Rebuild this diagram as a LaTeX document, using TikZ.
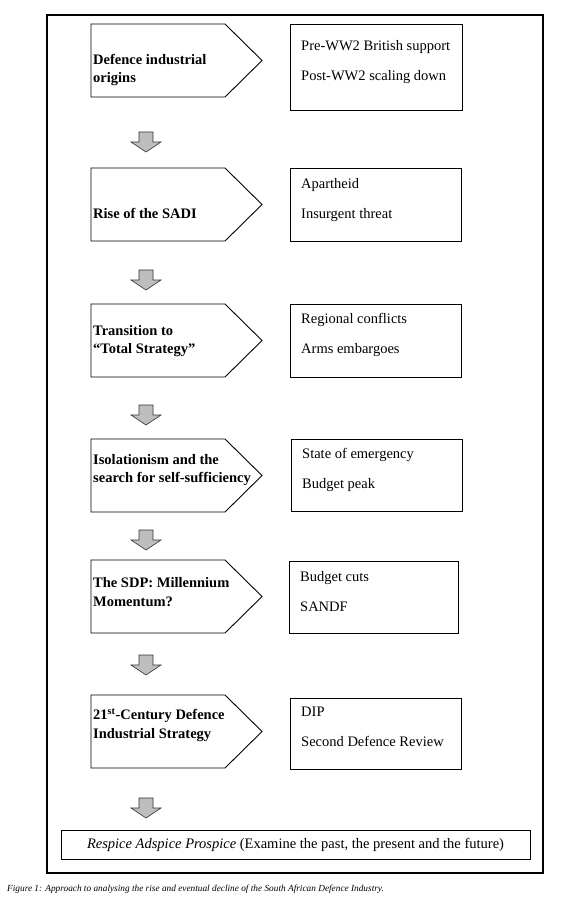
\documentclass[tikz,border=0pt]{standalone}
\usepackage{fontspec}
\setmainfont{Liberation Serif}
\usetikzlibrary{positioning,calc}
\definecolor{arrowgray}{RGB}{190,190,190}

\begin{document}
\begin{tikzpicture}[x=1pt,y=-1pt,
  outline/.style={draw=black,line width=0.9pt},
  body/.style={inner sep=0pt,outer sep=0pt,minimum width=134pt,minimum height=73pt},
  stagetext/.style={anchor=west,inner sep=0pt,align=left,font=\fontsize{14.5}{18.5}\selectfont\bfseries},
  itembox/.style={outline,inner sep=0pt,outer sep=0pt},
  itemtext/.style={anchor=west,inner sep=0pt,align=left,font=\fontsize{14.5}{30}\selectfont},
  downarrow/.style={draw=black!80,line width=0.6pt,fill=arrowgray}]
\useasboundingbox (0,0) rectangle (561,903);
% outer frame
\draw[line width=2pt] (47,15) rectangle (543,873);
% stages: pentagon on the left, box of factors on the right
\foreach \i/\ptop/\tcy/\stage/\bxl/\bxr/\byt/\byb/\byc/\facts in {
  1/24/70/{Defence industrial\\origins}/290/462/24/110/62/{Pre-WW2 British support\\Post-WW2 scaling down},
  2/168/213/{Rise of the SADI}/290/461/168/241/200/{Apartheid\\Insurgent threat},
  3/304/341/{Transition to\\“Total Strategy”}/290/461/304/377/335/{Regional conflicts\\Arms embargoes},
  4/439/470/{Isolationism and the\\search for self-sufficiency}/291/462/439/511/470/{State of emergency\\Budget peak},
  5/560/592/{The SDP: Millennium\\Momentum?}/289/458/561/633/592/{Budget cuts\\SANDF},
  6/695/725/{21\textsuperscript{st}-Century Defence\\Industrial Strategy}/290/461/698/769/727/{DIP\\Second Defence Review}}{
  \node[body] (p\i) at (158,{\ptop+36.5}) {};
  \draw[outline] (p\i.north west) -- (p\i.north east) -- ([xshift=37pt]p\i.east)
    -- (p\i.south east) -- (p\i.south west) -- cycle;
  \node[stagetext] (t\i) at (93,\tcy) {\stage};
  \node[itembox,minimum width={(\bxr-\bxl)*1pt},minimum height={(\byb-\byt)*1pt}]
    (b\i) at ({(\bxl+\bxr)/2},{(\byt+\byb)/2}) {};
  \node[itemtext] (f\i) at ({\bxl+11},\byc) {\facts};
}
% block arrows between stages
\foreach \ya in {132,270,405,530,655,798}{
  \draw[downarrow] (139,\ya) -- ++(14,0) -- ++(0,10) -- ++(8,0) -- ++(-15,10)
    -- ++(-15,-10) -- ++(8,0) -- cycle;
}
% closing motto
\node[outline,minimum width=469pt,minimum height=29pt,inner sep=0pt,
  font=\fontsize{14.5}{17}\selectfont] (motto) at (295.5,844.5)
  {\textit{Respice Adspice Prospice} (Examine the past, the present and the future)};
% caption
\node[anchor=west,inner sep=0pt,font=\fontsize{9.3}{11}\selectfont\itshape] (caption) at (7,889)
  {Figure 1: Approach to analysing the rise and eventual decline of the South African Defence Industry.};
\end{tikzpicture}
\end{document}
